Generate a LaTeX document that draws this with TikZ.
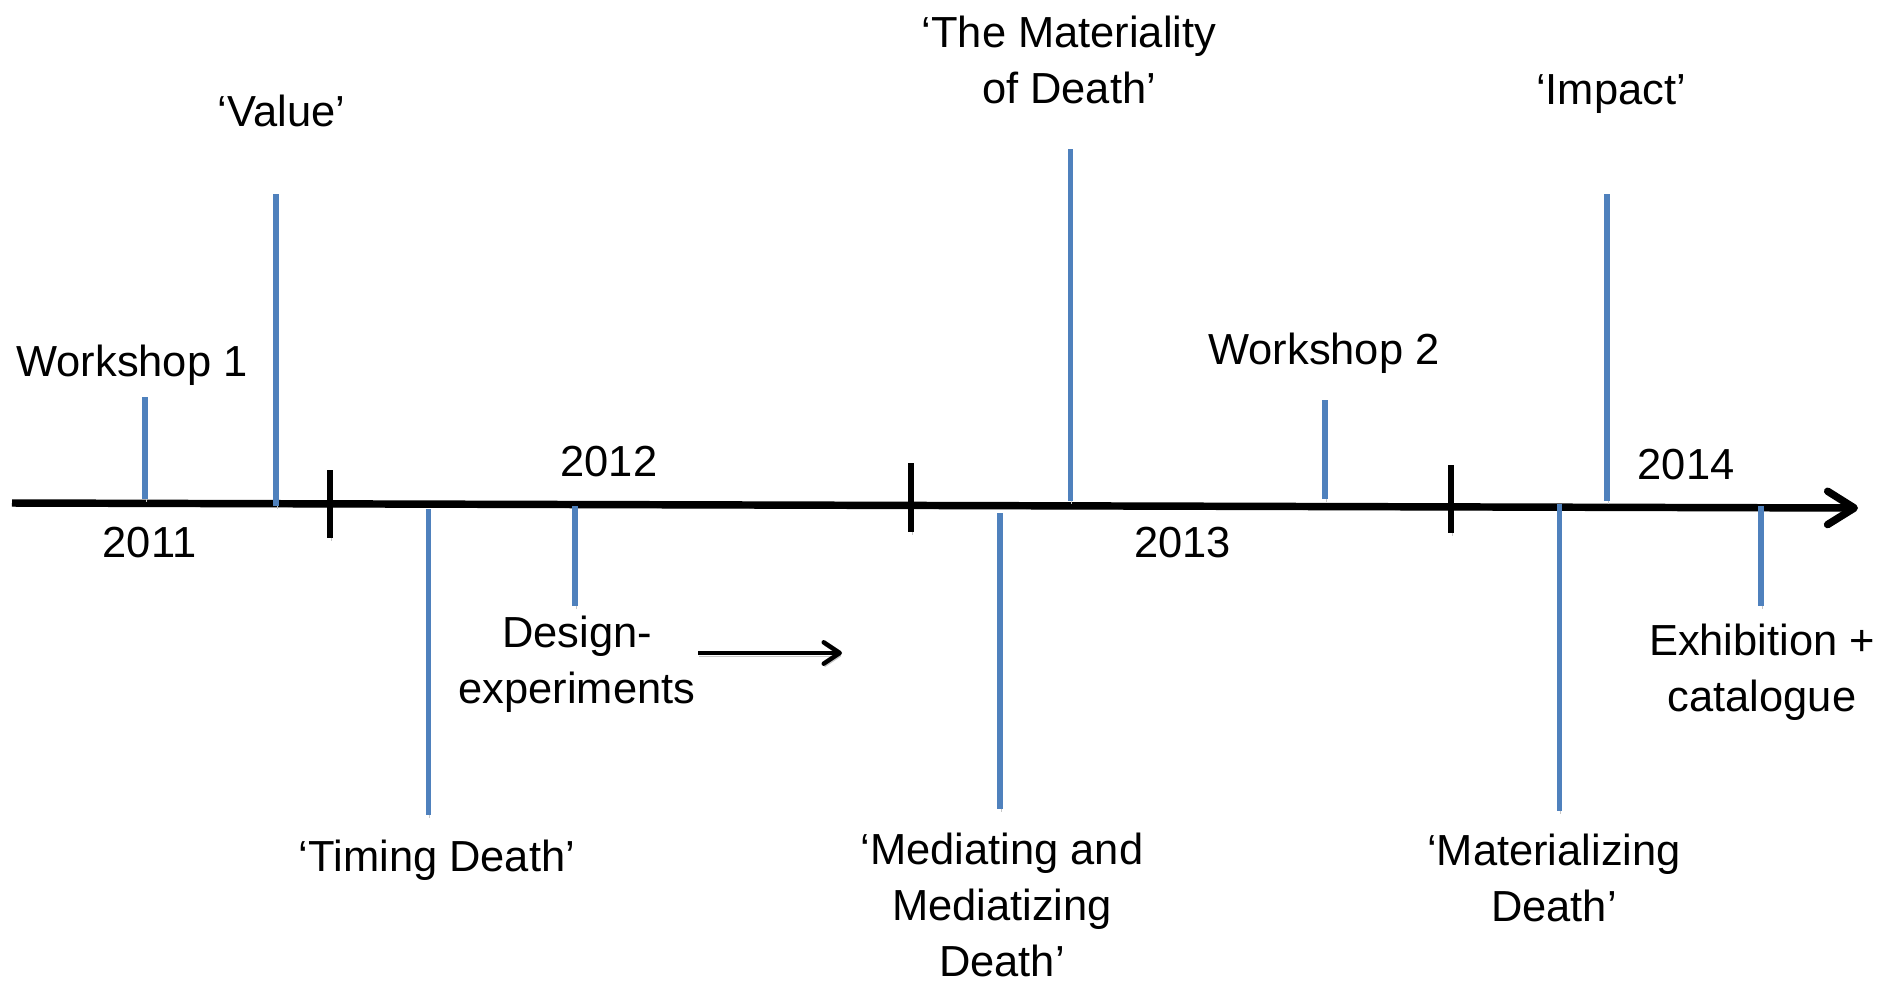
\documentclass[tikz,border=0pt]{standalone}
\usepackage{fontspec}
\setmainfont{Liberation Sans}
\usetikzlibrary{arrows.meta}

\definecolor{stemblue}{RGB}{79,129,189}

\tikzset{every picture/.style={line width=0.75pt}}
\tikzset{
  shade/.style={preaction={draw=black!22, transform canvas={xshift=0.75pt,yshift=-2.25pt}}},
  axis/.style={draw=black, line width=5.6pt, shade},
  yeartick/.style={draw=black, line width=4.5pt, shade},
  stem/.style={draw=stemblue, line width=3.9pt, shade},
  % multi-line labels sit on the baseline of their last line
  lbl/.style={anchor=base, inner sep=0pt, align=center, font=\fontsize{32.6}{42}\selectfont},
}

\begin{document}
\begin{tikzpicture}[x=0.75pt,y=0.75pt,yscale=-1,xscale=1]
    \useasboundingbox (0,0) rectangle (1899,985);

    %Time axis
    \coordinate (axisstart) at (12,503);
    \coordinate (axisend) at (1858,508);
    \draw [axis, -{Straight Barb[length=20pt,width=25pt,line join=round,line cap=round]}] (axisstart) -- (axisend) ;

    %Year ticks
    \foreach \x/\ya/\yb in {330/470/538, 911/463/532, 1451/465/533}
        \draw [yeartick] (\x,\ya) -- (\x,\yb) ;

    %Event stems
    \foreach \n/\x/\ya/\yb in {wsone/145/397/499, value/276/194/506, timing/428.5/509/815,
        design/575/506/606, materiality/1070.5/149/501, mediating/1000/513/809,
        wstwo/1325/400/499, impact/1607/194/501, materializing/1559.5/504/811,
        exhibition/1761/506/606}
    {
        \coordinate (\n-a) at (\x,\ya);
        \coordinate (\n-b) at (\x,\yb);
        \draw [stem] (\n-a) -- (\n-b) ;
    }

    %Straight Lines
    \coordinate (designfrom) at (698,653);
    \coordinate (designto) at (842,653);
    \draw [draw=black, line width=3.4pt, shade, -{Straight Barb[length=12pt,width=16pt,line join=round,line cap=round]}] (designfrom) -- (designto) ;

    % Text Node
    \node [lbl] (y2011) at (149.5,557) {2011};
    % Text Node
    \node [lbl] (y2012) at (609,476) {2012};
    % Text Node
    \node [lbl] (y2013) at (1182.5,557) {2013};
    % Text Node
    \node [lbl] (y2014) at (1686,479) {2014};
    % Text Node
    \node [lbl] (wsonelbl) at (132,376) {Workshop 1};
    % Text Node
    \node [lbl] (valuelbl) at (281.5,126) {‘Value’};
    % Text Node
    \node [lbl] (timinglbl) at (437,871) {‘Timing Death’};
    % Text Node
    \node [lbl] (designlbl) at (577,703) {Design-\\experiments};
    % Text Node
    \node [lbl] (materialitylbl) at (1069,103) {‘The Materiality\\of Death’};
    % Text Node
    \node [lbl] (mediatinglbl) at (1002,976) {‘Mediating and\\Mediatizing\\Death’};
    % Text Node
    \node [lbl] (wstwolbl) at (1324,364) {Workshop 2};
    % Text Node
    \node [lbl] (impactlbl) at (1611,104) {‘Impact’};
    % Text Node
    \node [lbl] (materializinglbl) at (1554,921) {‘Materializing\\Death’};
    % Text Node
    \node [lbl] (exhibitionlbl) at (1762,711) {Exhibition +\\catalogue};
\end{tikzpicture}
\end{document}
